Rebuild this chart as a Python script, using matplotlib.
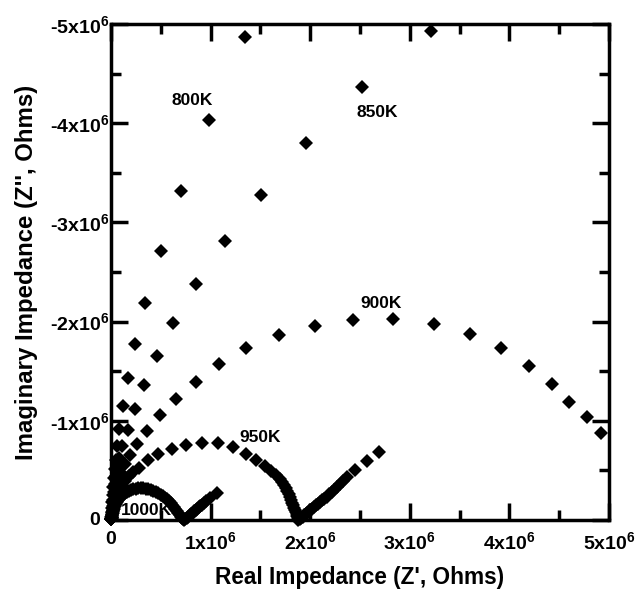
import numpy as np
import matplotlib
matplotlib.use('Agg')
import matplotlib.pyplot as plt
from matplotlib.ticker import MultipleLocator, FuncFormatter

plt.rcParams['font.family'] = ['Liberation Sans', 'DejaVu Sans']
plt.rcParams['font.weight'] = 'bold'
plt.rcParams['mathtext.fontset'] = 'custom'
plt.rcParams['mathtext.rm'] = 'Liberation Sans:bold'
plt.rcParams['mathtext.it'] = 'Liberation Sans:bold'
plt.rcParams['mathtext.bf'] = 'Liberation Sans:bold'
plt.rcParams['mathtext.default'] = 'rm'

# Impedance data, units of 1e6 Ohms (Z' real, Z'' imaginary)
z800_re = [0.002, 0.004, 0.006, 0.010, 0.014, 0.018, 0.022, 0.028, 0.035, 0.045,
           0.060, 0.080, 0.124, 0.167, 0.240, 0.345, 0.500, 0.700, 0.980, 1.350]
z800_im = [-0.01, -0.03, -0.07, -0.12, -0.18, -0.25, -0.33, -0.42, -0.51, -0.60,
           -0.75, -0.92, -1.15, -1.43, -1.77, -2.19, -2.71, -3.32, -4.03, -4.87]

z850_re = [0.003, 0.005, 0.010, 0.016, 0.022, 0.030, 0.040, 0.050, 0.070, 0.085,
           0.110, 0.170, 0.240, 0.330, 0.460, 0.620, 0.850, 1.140, 1.510, 1.960,
           2.520, 3.210]
z850_im = [-0.01, -0.03, -0.08, -0.14, -0.20, -0.28, -0.36, -0.44, -0.53, -0.62,
           -0.75, -0.91, -1.12, -1.36, -1.65, -1.99, -2.38, -2.81, -3.28, -3.80,
           -4.36, -4.93]

z900_re = [0.003, 0.005, 0.010, 0.020, 0.030, 0.045, 0.060, 0.080, 0.100, 0.140,
           0.190, 0.260, 0.360, 0.490, 0.650, 0.850, 1.080, 1.360, 1.690, 2.050,
           2.430, 2.830, 3.240, 3.600, 3.920, 4.200, 4.430, 4.600, 4.780, 4.920]
z900_im = [-0.01, -0.02, -0.05, -0.10, -0.16, -0.23, -0.30, -0.38, -0.47, -0.56,
           -0.66, -0.77, -0.90, -1.06, -1.22, -1.39, -1.57, -1.73, -1.86, -1.96,
           -2.02, -2.03, -1.98, -1.87, -1.73, -1.55, -1.37, -1.19, -1.04, -0.88]

z950_re = [0.003, 0.005, 0.010, 0.020, 0.030, 0.045, 0.060, 0.080, 0.110, 0.140,
           0.180, 0.220, 0.280, 0.370, 0.470, 0.610, 0.750, 0.910, 1.070, 1.220,
           1.360, 1.460, 1.550, 1.610, 1.660, 1.700, 1.720, 1.740, 1.755, 1.770,
           1.785, 1.800, 1.810, 1.820, 1.830, 1.840, 1.850, 1.860, 1.865, 1.870,
           1.875, 1.880, 1.895, 1.910, 1.925, 1.940, 1.955, 1.970, 1.985, 2.000,
           2.020, 2.040, 2.060, 2.080, 2.100, 2.120, 2.140, 2.165, 2.190, 2.215,
           2.240, 2.270, 2.300, 2.330, 2.370, 2.450, 2.570, 2.690]
z950_im = [-0.01, -0.02, -0.05, -0.09, -0.13, -0.18, -0.23, -0.28, -0.34, -0.39,
           -0.44, -0.48, -0.52, -0.60, -0.67, -0.72, -0.76, -0.78, -0.78, -0.74,
           -0.67, -0.60, -0.54, -0.49, -0.45, -0.41, -0.38, -0.35, -0.32, -0.29,
           -0.26, -0.23, -0.20, -0.175, -0.15, -0.125, -0.10, -0.08, -0.06, -0.04,
           -0.02, -0.005, -0.01, -0.02, -0.035, -0.05, -0.06, -0.075, -0.09, -0.10,
           -0.115, -0.13, -0.15, -0.165, -0.18, -0.20, -0.215, -0.235, -0.26, -0.28,
           -0.30, -0.33, -0.36, -0.39, -0.43, -0.50, -0.59, -0.69]

z1000_re = [0.003, 0.006, 0.010, 0.015, 0.020, 0.030, 0.040, 0.050, 0.060, 0.075,
            0.090, 0.105, 0.120, 0.140, 0.160, 0.180, 0.200, 0.225, 0.250, 0.275,
            0.300, 0.325, 0.350, 0.375, 0.400, 0.425, 0.450, 0.475, 0.500, 0.520,
            0.540, 0.560, 0.580, 0.600, 0.615, 0.630, 0.645, 0.660, 0.675, 0.690,
            0.700, 0.710, 0.720, 0.730, 0.745, 0.760, 0.775, 0.790, 0.805, 0.820,
            0.835, 0.850, 0.865, 0.880, 0.895, 0.910, 0.930, 0.950, 0.990, 1.060]
z1000_im = [-0.01, -0.03, -0.05, -0.07, -0.09, -0.11, -0.14, -0.16, -0.18, -0.20,
            -0.22, -0.24, -0.255, -0.27, -0.285, -0.295, -0.305, -0.31, -0.315, -0.32,
            -0.32, -0.32, -0.315, -0.31, -0.305, -0.295, -0.285, -0.27, -0.255, -0.24,
            -0.225, -0.21, -0.19, -0.17, -0.15, -0.13, -0.11, -0.09, -0.07, -0.05,
            -0.035, -0.02, -0.01, -0.003, -0.01, -0.02, -0.035, -0.05, -0.06, -0.075,
            -0.09, -0.10, -0.115, -0.13, -0.14, -0.155, -0.17, -0.19, -0.22, -0.27]

series = [(z800_re, z800_im), (z850_re, z850_im), (z900_re, z900_im),
          (z950_re, z950_im), (z1000_re, z1000_im)]

labels = ['800K', '850K', '900K', '950K', '1000K']
label_x = [0.81, 2.67, 2.71, 1.50, 0.36]
label_y = [-4.23, -4.11, -2.18, -0.83, -0.10]

fig = plt.figure(figsize=(6.44, 5.92), dpi=100)
ax = fig.add_axes([0.1724, 0.1216, 0.7733, 0.838])

for re, im in series:
    ax.plot(np.array(re) * 1e6, np.array(im) * 1e6, 'D', color='black',
            markersize=7.2, markeredgewidth=0, clip_on=False, zorder=3)

for t, x, y in zip(labels, label_x, label_y):
    ax.text(x * 1e6, y * 1e6, t, ha='center', va='center', fontsize=12.5,
            fontweight='bold', zorder=4)

ax.set_xlim(0, 5e6)
ax.set_ylim(0, -5e6)


def fmt(v, pos):
    if abs(v) < 1:
        return '0'
    n = int(round(v / 1e6))
    return f'{"-" if n < 0 else ""}{abs(n)}x10$^{{6}}$'


def fmt_y(v, pos):
    # the y "0" is drawn separately, aligned like the other labels' digits
    return '' if abs(v) < 1 else fmt(v, pos)


ax.xaxis.set_major_locator(MultipleLocator(1e6))
ax.xaxis.set_minor_locator(MultipleLocator(0.5e6))
ax.yaxis.set_major_locator(MultipleLocator(1e6))
ax.yaxis.set_minor_locator(MultipleLocator(0.5e6))
ax.xaxis.set_major_formatter(FuncFormatter(fmt))
ax.yaxis.set_major_formatter(FuncFormatter(fmt_y))

ax.tick_params(which='both', direction='in', top=True, right=True, width=2.5)
ax.tick_params(which='major', length=12, labelsize=14)
ax.tick_params(axis='x', which='major', pad=8)
ax.tick_params(axis='y', which='major', pad=1)
ax.tick_params(which='minor', length=7)
for s in ax.spines.values():
    s.set_linewidth(2.5)

ax.annotate('0', xy=(0, 0), xycoords='axes fraction', xytext=(-11, 0),
            textcoords='offset pixels', ha='right', va='center', fontsize=14,
            fontweight='bold')

ax.set_xlabel("Real Impedance (Z', Ohms)", fontsize=16.3, fontweight='bold', labelpad=9)
ax.set_ylabel("Imaginary Impedance (Z'', Ohms)", fontsize=17.3, fontweight='bold', labelpad=9)

fig.savefig('out.png', dpi=100)
